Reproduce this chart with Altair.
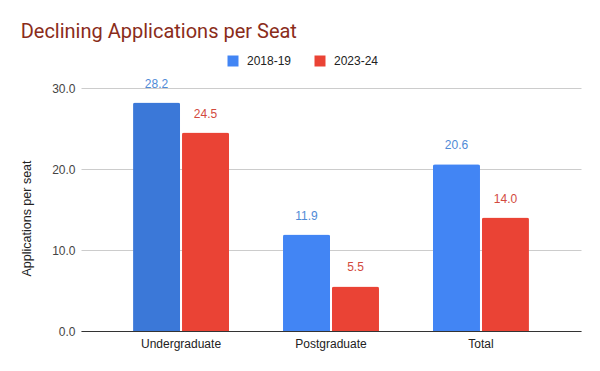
import altair as alt
import pandas as pd

categories = ["Undergraduate", "Postgraduate", "Total"]
years = ["2018-19", "2023-24"]
values_2018 = [28.2, 11.9, 20.6]
values_2023 = [24.5, 5.5, 14.0]
y_ticks = [0, 10, 20, 30]

rows = []
for c, a, b in zip(categories, values_2018, values_2023):
    rows.append({"category": c, "year": years[0], "value": a})
    rows.append({"category": c, "year": years[1], "value": b})
df = pd.DataFrame(rows)

color_scale = alt.Scale(domain=years, range=["#4285f4", "#ea4335"])
label_scale = alt.Scale(domain=years, range=["#4f8ad6", "#d24a3e"])

x = alt.X(
    "category:N", sort=categories, title=None,
    scale=alt.Scale(paddingInner=0.36, paddingOuter=0.347),
    axis=alt.Axis(labelAngle=0, labelFont="Liberation Sans", labelFontSize=12,
                  labelColor="#222222", labelPadding=7, ticks=False, grid=False,
                  domainColor="#333333", domainWidth=1),
)
xoff = alt.XOffset("year:N", sort=years, scale=alt.Scale(paddingInner=0.04))
y = alt.Y(
    "value:Q", scale=alt.Scale(domain=[0, 30], nice=False),
    axis=alt.Axis(values=y_ticks, format=".1f", title="Applications per seat",
                  titleFont="Liberation Sans", titleFontSize=12.5, titleFontWeight="normal",
                  titleColor="#222222", titlePadding=18, titleY=130,
                  labelFont="Liberation Sans", labelFontSize=12, labelColor="#444444",
                  labelPadding=6, ticks=False, domain=False,
                  gridColor="#cccccc"),
)

bars = alt.Chart(df).mark_bar(cornerRadiusTopLeft=2, cornerRadiusTopRight=2).encode(
    x=x, xOffset=xoff, y=y,
    color=alt.condition(
        "datum.category == 'Undergraduate' && datum.year == '2018-19'",
        alt.value("#3b78d8"),
        alt.Color("year:N", scale=color_scale, sort=years,
                  legend=alt.Legend(title=None, orient="none", direction="horizontal",
                                    legendX=146, legendY=-33,
                                    symbolType="square", symbolSize=121,
                                    symbolStrokeWidth=0, labelFont="Liberation Sans",
                                    labelFontSize=12, labelColor="#222222",
                                    columnPadding=22, labelOffset=8)),
    ),
)

labels = alt.Chart(df).mark_text(baseline="middle", dy=-19, font="Liberation Sans", fontSize=12).encode(
    x=x, xOffset=xoff, y=y,
    text=alt.Text("value:Q", format=".1f"),
    color=alt.Color("year:N", scale=label_scale, legend=None),
)

chart = alt.layer(bars, labels).resolve_scale(color="independent").properties(
    width=500, height=243,
    background="white",
    autosize=alt.AutoSizeParams(type="none"),
    padding={"left": 73, "top": 80, "right": 11, "bottom": 32},
    title=alt.TitleParams("Declining Applications per Seat", anchor="start", font="Roboto",
                          fontSize=20, fontWeight="normal", color="#8a2c1a", frame="bounds",
                          dy=-9),
).configure_view(stroke=None)

chart.save("out.html", embed_options={"renderer": "svg", "actions": False})
